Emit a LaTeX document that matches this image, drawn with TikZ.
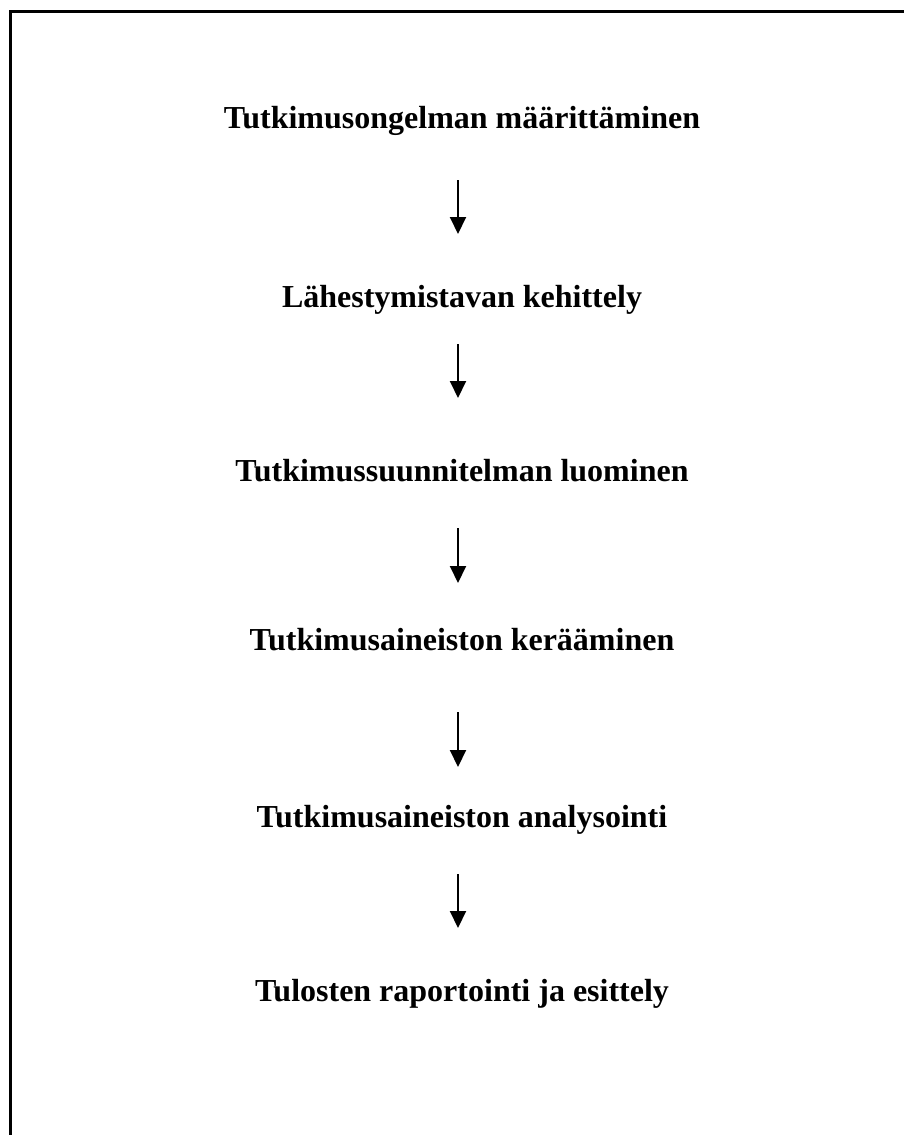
\documentclass[tikz,border=0pt]{standalone}
\usepackage{fontspec}
\setmainfont{Liberation Serif}
\usetikzlibrary{arrows.meta}
\begin{document}
\begin{tikzpicture}[x=1pt,y=-1pt,
  stage/.style={font=\fontsize{32}{38}\selectfont\bfseries, anchor=base, inner sep=0pt},
  flow/.style={line width=2pt, -{Triangle[length=17pt,width=16pt]}},
  frame/.style={line width=3pt}]
\useasboundingbox (0,0) rectangle (904,1135);
\draw[frame] (10,1135) -- (10,11) -- (904,11);
\node[stage] (s1) at (462,128) {Tutkimusongelman määrittäminen};
\node[stage] (s2) at (462,307) {Lähestymistavan kehittely};
\node[stage] (s3) at (462,481) {Tutkimussuunnitelman luominen};
\node[stage] (s4) at (462,650) {Tutkimusaineiston kerääminen};
\node[stage] (s5) at (462,827) {Tutkimusaineiston analysointi};
\node[stage] (s6) at (462,1001) {Tulosten raportointi ja esittely};
\coordinate (a1s) at (458,180); \coordinate (a1e) at (458,234);
\coordinate (a2s) at (458,344); \coordinate (a2e) at (458,398);
\coordinate (a3s) at (458,528); \coordinate (a3e) at (458,583);
\coordinate (a4s) at (458,712); \coordinate (a4e) at (458,767);
\coordinate (a5s) at (458,874); \coordinate (a5e) at (458,928);
\draw[flow] (a1s) -- (a1e);
\draw[flow] (a2s) -- (a2e);
\draw[flow] (a3s) -- (a3e);
\draw[flow] (a4s) -- (a4e);
\draw[flow] (a5s) -- (a5e);
\end{tikzpicture}
\end{document}
